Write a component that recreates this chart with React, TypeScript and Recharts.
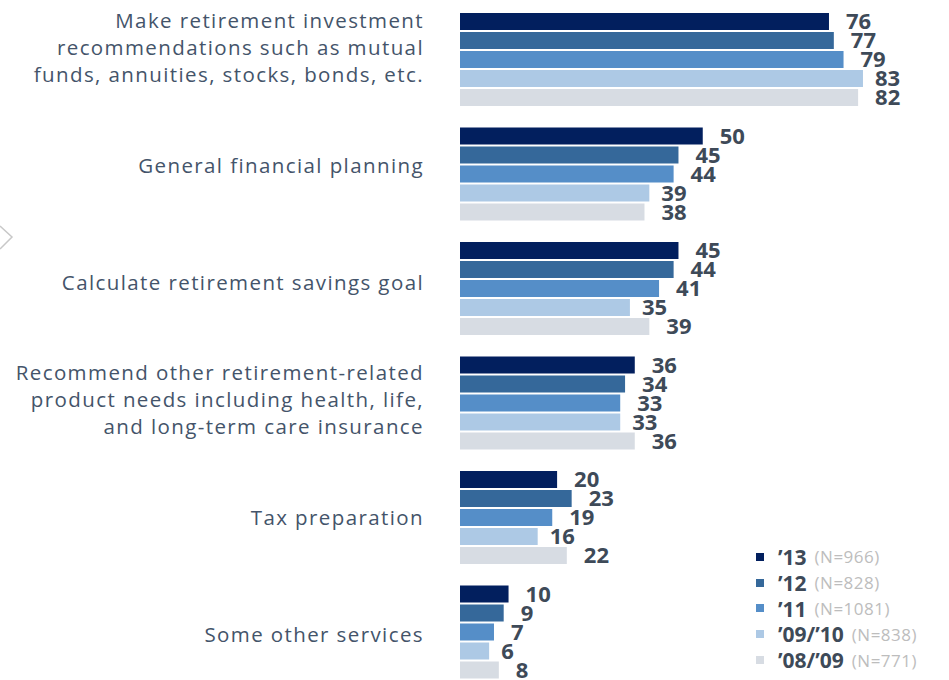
import React from "react";
import { BarChart, Bar, XAxis, YAxis, LabelList } from "recharts";

const categories = [
  "Make retirement investment\nrecommendations such as mutual\nfunds, annuities, stocks, bonds, etc.",
  "General financial planning",
  "Calculate retirement savings goal",
  "Recommend other retirement-related\nproduct needs including health, life,\nand long-term care insurance",
  "Tax preparation",
  "Some other services",
];

const y13 = [76, 50, 45, 36, 20, 10];
const y12 = [77, 45, 44, 34, 23, 9];
const y11 = [79, 44, 41, 33, 19, 7];
const y0910 = [83, 39, 35, 33, 16, 6];
const y0809 = [82, 38, 39, 36, 22, 8];

const seriesKeys = ["y13", "y12", "y11", "y0910", "y0809"];
const seriesNames = ["\u201913", "\u201912", "\u201911", "\u201909/\u201910", "\u201908/\u201909"];
const seriesN = ["(N=966)", "(N=828)", "(N=1081)", "(N=838)", "(N=771)"];
const seriesColors = ["#021f5e", "#35689a", "#558ec8", "#adc9e5", "#d7dce3"];
const labelOffsets = [17, 17, 17, 12, 17];

const seriesValues = [y13, y12, y11, y0910, y0809];

const data = categories.map((name, i) => {
  const row: Record<string, any> = { name };
  seriesKeys.forEach((k, s) => {
    row[k] = seriesValues[s][i];
  });
  return row;
});

const FONT = "'Open Sans', 'Noto Sans', sans-serif";
const TEXT = "#44546A";
const VALUE = "#3e4a58";

function CatTick(props: any) {
  const { x, y, payload, index } = props;
  const lines = String(payload.value).split("\n");
  const lh = 27;
  const shift = -12 + (index ?? 0) * 2.9;
  const startY = y + shift - ((lines.length - 1) * lh) / 2;
  const tx = x - 36;
  return (
    <text
      x={tx}
      y={startY}
      textAnchor="end"
      dominantBaseline="central"
      fill={TEXT}
      fontSize={20.5}
      letterSpacing={1.4}
      fontFamily={FONT}
    >
      {lines.map((l, i) => (
        <tspan key={i} x={tx} dy={i === 0 ? 0 : lh}>
          {l}
        </tspan>
      ))}
    </text>
  );
}

function LegendBlock() {
  return (
    <div style={{ position: "absolute", left: 756, top: 544, fontFamily: FONT }}>
      {seriesNames.map((n, i) => (
        <div
          key={n}
          style={{ display: "flex", alignItems: "center", height: 25.8, whiteSpace: "nowrap" }}
        >
          <span
            style={{
              display: "inline-block",
              width: 8,
              height: 8,
              background: seriesColors[i],
              marginRight: 14,
            }}
          />
          <span style={{ fontWeight: 700, fontSize: 21, color: VALUE, marginRight: 8 }}>{n}</span>
          <span style={{ fontSize: 17, color: "#bdbdbd", letterSpacing: 0.5 }}>{seriesN[i]}</span>
        </div>
      ))}
    </div>
  );
}

export default function App() {
  return (
    <div style={{ position: "absolute", left: 0, top: 0, width: 949, height: 680, overflow: "hidden", background: "#fff" }}>
      <svg width={20} height={40} style={{ position: "absolute", left: 0, top: 220 }}>
        <polyline points="0,6 12,17 0,29" fill="none" stroke="#c8c8c8" strokeWidth={1.5} />
      </svg>
      <BarChart
        width={949}
        height={690}
        data={data}
        layout="vertical"
        margin={{ top: 2, right: 3.5, bottom: 1, left: 0 }}
        barSize={17}
        barGap={2}
        barCategoryGap={10}
      >
        <XAxis type="number" domain={[0, 100]} hide />
        <YAxis
          type="category"
          dataKey="name"
          width={460}
          axisLine={false}
          tickLine={false}
          tickSize={0}
          tickMargin={0}
          interval={0}
          tick={<CatTick />}
        />
        {seriesKeys.map((k, i) => (
          <Bar key={k} dataKey={k} name={seriesNames[i]} fill={seriesColors[i]} isAnimationActive={false}>
            <LabelList
              dataKey={k}
              position="right"
              offset={labelOffsets[i]}
              fill={VALUE}
              fontSize={22}
              fontWeight={700}
              fontFamily={FONT}
            />
          </Bar>
        ))}
      </BarChart>
      <LegendBlock />
    </div>
  );
}
